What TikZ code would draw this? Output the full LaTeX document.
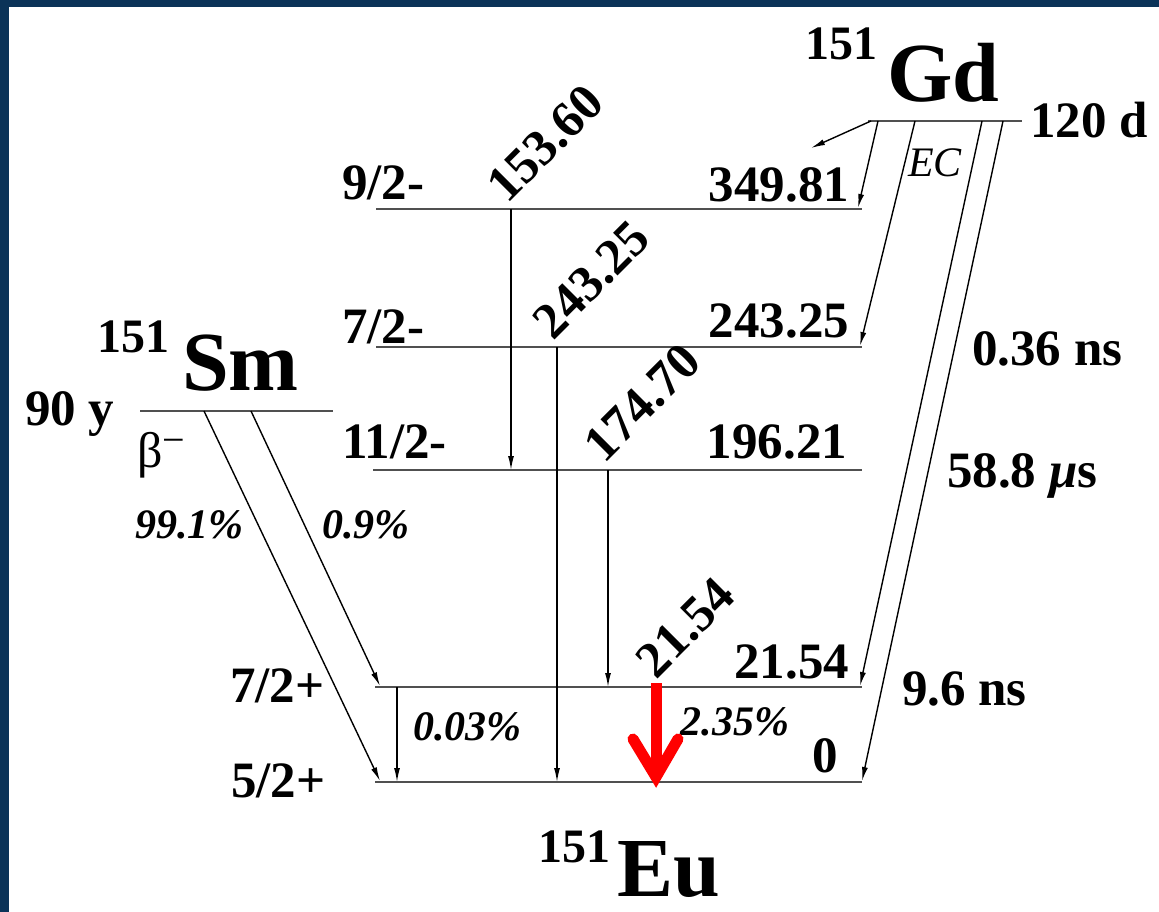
\documentclass[tikz,border=0pt]{standalone}
\usepackage{fontspec}
\setmainfont{Liberation Serif}
\usetikzlibrary{arrows.meta}
\definecolor{frameblue}{RGB}{11,51,88}
\definecolor{levelgray}{RGB}{80,80,80}
\newcommand\labfont{\fontsize{51}{56}\selectfont\bfseries}
\newcommand\pctfont{\fontsize{42}{46}\selectfont\bfseries\itshape}
\newcommand\bigfont{\fontsize{84}{90}\selectfont\bfseries}
\newcommand\massfont{\fontsize{48}{52}\selectfont\bfseries}
\begin{document}
\begin{tikzpicture}[x=1pt,y=-1pt,
  txt/.style={inner sep=0pt,outer sep=0pt},
  lvl/.style={draw=levelgray,line width=2.6pt},
  arr/.style={draw=black,line width=1.4pt,-{Latex[length=14pt,width=6pt]}},
  redarr/.style={draw=red,line width=11pt}]
\useasboundingbox (0,0) rectangle (1159,912);
\fill[frameblue] (0,0) rectangle (1159,912);
\fill[white] (9,7) rectangle (1159,912);

% level coordinates
\coordinate (gdL) at (868,121); \coordinate (gdR) at (1022,121);
\coordinate (smL) at (140,411); \coordinate (smR) at (333,411);
\coordinate (l9L) at (376,209); \coordinate (l9R) at (862,209);
\coordinate (l7L) at (376,347); \coordinate (l7R) at (862,347);
\coordinate (l11L) at (373,470); \coordinate (l11R) at (862,470);
\coordinate (l7pL) at (375,687); \coordinate (l7pR) at (862,687);
\coordinate (l5L) at (375,782); \coordinate (l5R) at (862,782);

\draw[lvl] (gdL) -- (gdR);
\draw[lvl] (smL) -- (smR);
\draw[lvl] (l9L) -- (l9R);
\draw[lvl] (l7L) -- (l7R);
\draw[lvl] (l11L) -- (l11R);
\draw[lvl] (l7pL) -- (l7pR);
\draw[lvl] (l5L) -- (l5R);

% transition coordinates
\coordinate (t1s) at (511,209); \coordinate (t1e) at (511,470);
\coordinate (t2s) at (557,347); \coordinate (t2e) at (557,782);
\coordinate (t3s) at (608,470); \coordinate (t3e) at (608,687);
\coordinate (t4s) at (397,687); \coordinate (t4e) at (397,782);
\draw[arr] (t1s) -- (t1e);
\draw[arr] (t2s) -- (t2e);
\draw[arr] (t3s) -- (t3e);
\draw[arr] (t4s) -- (t4e);

% beta decays from Sm
\coordinate (b1s) at (204,411); \coordinate (b1e) at (380,781);
\coordinate (b2s) at (251,411); \coordinate (b2e) at (380,686);
\draw[arr] (b1s) -- (b1e);
\draw[arr] (b2s) -- (b2e);

% EC decays from Gd
\coordinate (e0s) at (871,121); \coordinate (e0e) at (811,148);
\coordinate (e1s) at (878,121); \coordinate (e1e) at (858,208);
\coordinate (e2s) at (915,121); \coordinate (e2e) at (860,346);
\coordinate (e3s) at (982,121); \coordinate (e3e) at (860,686);
\coordinate (e4s) at (1003,121); \coordinate (e4e) at (862,781);
\draw[arr] (e0s) -- (e0e);
\draw[arr] (e1s) -- (e1e);
\draw[arr] (e2s) -- (e2e);
\draw[arr] (e3s) -- (e3e);
\draw[arr] (e4s) -- (e4e);

% spin labels
\node[txt,anchor=base west] (s9) at (342,200) {\labfont 9/2-};
\node[txt,anchor=base west] (s7) at (342,343) {\labfont 7/2-};
\node[txt,anchor=base west] (s11) at (342,458) {\labfont 11/2-};
\node[txt,anchor=base west] (s7p) at (230,702) {\labfont 7/2+};
\node[txt,anchor=base west] (s5p) at (231,797) {\labfont 5/2+};

% energies
\node[txt,anchor=base east] (en1) at (849,202) {\labfont 349.81};
\node[txt,anchor=base east] (en2) at (849,337) {\labfont 243.25};
\node[txt,anchor=base east] (en3) at (847,458) {\labfont 196.21};
\node[txt,anchor=base east] (en4) at (849,678) {\labfont 21.54};
\node[txt,anchor=base east] (en5) at (838,772) {\labfont 0};

% half-lives
\node[txt,anchor=base west] (hl0) at (1030,138) {\labfont 120 d};
\node[txt,anchor=base west] (hl1) at (972,365) {\labfont 0.36 ns};
\node[txt,anchor=base west] (hl2) at (947,487) {\labfont 58.8 {\itshape μ}s};
\node[txt,anchor=base west] (hl3) at (902,705) {\labfont 9.6 ns};
\node[txt,anchor=base west] (hl4) at (25,425) {\labfont 90 y};

% decay modes
\node[txt,anchor=base west] (beta) at (137,467) {\fontsize{50}{55}\selectfont β\raisebox{14pt}{\fontsize{40}{44}\selectfont −}};
\node[txt,anchor=base west] (ec) at (908,177) {\fontsize{42}{46}\selectfont\itshape EC};
\node[txt,anchor=base west] (p1) at (135,538) {\pctfont 99.1\%};
\node[txt,anchor=base west] (p2) at (322,538) {\pctfont 0.9\%};
\node[txt,anchor=base west] (p3) at (413,740) {\pctfont 0.03\%};
\node[txt,anchor=base east] (p4) at (789,735) {\pctfont 2.35\%};

% gamma energies (rotated)
\node[txt,anchor=base west,rotate=45] (g1) at (507,205) {\labfont 153.60};
\node[txt,anchor=base west,rotate=45] (g2) at (553,341) {\labfont 243.25};
\node[txt,anchor=base west,rotate=45] (g3) at (604,464) {\labfont 174.70};
\node[txt,anchor=base west,rotate=45] (g4) at (656,680) {\labfont 21.54};

% nuclides
\node[txt,anchor=base west] (gd) at (887,102) {\bigfont Gd};
\node[txt,anchor=base west] (gdm) at (805,60) {\massfont 151};
\node[txt,anchor=base west] (sm) at (182,390) {\bigfont Sm};
\node[txt,anchor=base west] (smm) at (97,352) {\massfont 151};
\node[txt,anchor=base west] (eu) at (617,896) {\bigfont Eu};
\node[txt,anchor=base west] (eum) at (538,862) {\massfont 151};

% red arrow (21.54 keV transition)
\coordinate (rs) at (656,683); \coordinate (rt) at (656,777);
\coordinate (ra) at (633,739); \coordinate (rb) at (678,739);
\draw[redarr,line cap=butt] (rs) -- (rt);
\draw[redarr,line cap=round,line join=miter] (ra) -- (rt) -- (rb);
\end{tikzpicture}
\end{document}
